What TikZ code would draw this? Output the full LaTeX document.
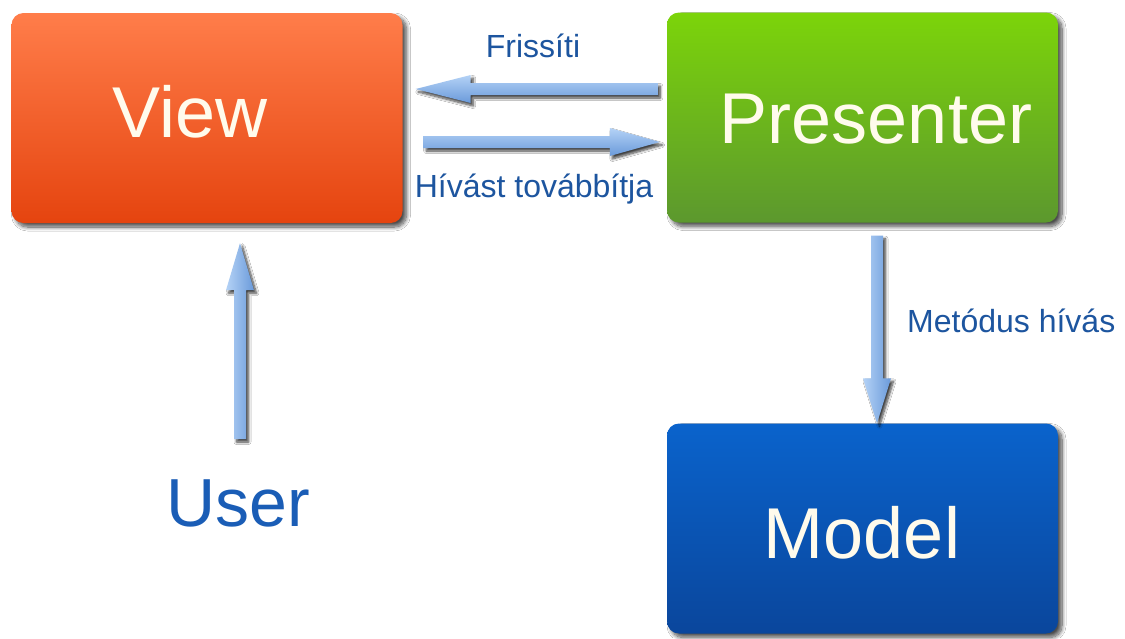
\documentclass[tikz,border=0pt]{standalone}
\usepackage{fontspec}
\setmainfont{Liberation Sans}
\usetikzlibrary{calc,shadows.blur}

\definecolor{viewtop}{HTML}{FF7D4A}
\definecolor{viewbot}{HTML}{E5440F}
\definecolor{prestop}{HTML}{7CD40A}
\definecolor{presbot}{HTML}{5C982E}
\definecolor{modeltop}{HTML}{0A63CC}
\definecolor{modelbot}{HTML}{0A469C}
\definecolor{boxtextcol}{HTML}{FFFBEC}
\definecolor{labelblue}{HTML}{1D559F}
\definecolor{userblue}{HTML}{1A5DB6}
\definecolor{arrowlight}{HTML}{B4D2F6}
\definecolor{arrowdark}{HTML}{6A9ADA}

\tikzset{
  softshadow/.style={blur shadow={shadow xshift=4pt, shadow yshift=-4pt,
      shadow blur radius=4pt, shadow blur steps=10, shadow opacity=70}},
  arrowshadow/.style={blur shadow={shadow xshift=2.5pt, shadow yshift=-3pt,
      shadow blur radius=2.5pt, shadow blur steps=8, shadow opacity=75}},
  box/.style={rectangle, rounded corners=12pt, minimum width=391pt,
      minimum height=210pt, inner sep=0pt, softshadow},
  boxtext/.style={anchor=base, inner sep=0pt, text=boxtextcol,
      font=\fontsize{72}{80}\selectfont},
  labeltext/.style={anchor=base, inner sep=0pt, text=labelblue,
      font=\fontsize{32}{38}\selectfont},
  hflow/.style={top color=arrowlight, bottom color=arrowdark, arrowshadow},
  vflow/.style={left color=arrowlight, right color=arrowdark, arrowshadow},
}

% block arrow from #2 to #3, head length #4
\newcommand\fatarrow[4]{%
  \coordinate (fa-h) at ($(#3)!#4!(#2)$);
  \shade[#1] ($(#2)!6pt!90:(#3)$) -- ($(fa-h)!6pt!90:(#3)$)
    -- ($(fa-h)!14pt!90:(#3)$) -- (#3) -- ($(fa-h)!14pt!-90:(#3)$)
    -- ($(fa-h)!6pt!-90:(#3)$) -- ($(#2)!6pt!-90:(#3)$) -- cycle;
}

\begin{document}
\begin{tikzpicture}[x=1pt,y=1pt]
  \useasboundingbox (0,0) rectangle (1125,-638);
  \fill[white] (0,0) rectangle (1125,-638);

  % boxes
  \node[box, top color=viewtop, bottom color=viewbot] (view) at (207,-118) {};
  \node[box, top color=prestop, bottom color=presbot] (pres) at (862.5,-117.5) {};
  \node[box, top color=modeltop, bottom color=modelbot] (model) at (862.5,-528.5) {};

  \node[boxtext] (viewlbl) at (190,-137) {View};
  \node[boxtext] (preslbl) at (876,-143) {Presenter};
  \node[boxtext] (modellbl) at (862,-558) {Model};

  % user
  \node[anchor=base, inner sep=0pt, text=userblue,
        font=\fontsize{68}{76}\selectfont] (user) at (238,-526) {User};

  % connector end points
  \coordinate (upd-s) at ($(pres.west)+(-9pt,28.5pt)$);
  \coordinate (upd-e) at ($(view.east)+(13pt,29pt)$);
  \coordinate (fwd-s) at ($(view.east)+(21pt,-24pt)$);
  \coordinate (fwd-e) at ($(pres.west)+(-7pt,-24.5pt)$);
  \coordinate (call-s) at ($(pres.south)+(14.5pt,-13pt)$);
  \coordinate (call-e) at ($(model.north)+(14.5pt,0pt)$);
  \coordinate (usr-s) at ($(user.north)+(2pt,40pt)$);
  \coordinate (usr-e) at ($(view.south)+(33pt,-20pt)$);

  % connectors
  \fatarrow{hflow}{upd-s}{upd-e}{55pt}
  \fatarrow{hflow}{fwd-s}{fwd-e}{50pt}
  \fatarrow{vflow}{call-s}{call-e}{45pt}
  \fatarrow{vflow}{usr-s}{usr-e}{47pt}

  % connector labels
  \node[labeltext] (updlbl) at (533,-57) {Frissíti};
  \node[labeltext] (fwdlbl) at (534,-197) {Hívást továbbítja};
  \node[labeltext, anchor=base west] (calllbl) at (907,-332) {Metódus hívás};
\end{tikzpicture}
\end{document}
